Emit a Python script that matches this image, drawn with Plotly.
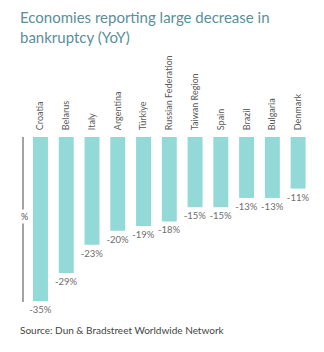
import plotly.graph_objects as go

countries = ["Croatia", "Belarus", "Italy", "Argentina", "Türkiye", "Russian Federation",
             "Taiwan Region", "Spain", "Brazil", "Bulgaria", "Denmark"]
values = [-35, -29, -23, -20, -19, -18, -15, -15, -13, -13, -11]
labels = [f"{v}%" for v in values]

TOP, BOTTOM = 137, 302
PH = BOTTOM - TOP
PW = 324 - 24 - 13


def py(p):
    return (BOTTOM - p) / PH


def px(p):
    return (p - 24) / PW


fig = go.Figure()
fig.add_trace(go.Bar(
    x=list(range(len(countries))), y=values,
    marker=dict(color="#93d9d7", line=dict(width=0)),
    width=0.58,
    text=labels, textposition="outside", cliponaxis=False, constraintext="none",
    textfont=dict(family="Lato", size=9.5, color="#6e6e6e"),
    hoverinfo="skip",
))

fig.update_layout(
    width=324, height=352,
    margin=dict(l=24, r=13, t=TOP, b=352 - BOTTOM),
    paper_bgcolor="white", plot_bgcolor="white",
    showlegend=False,
    xaxis=dict(
        side="top", range=[-0.64, 10.5],
        tickmode="array", tickvals=list(range(len(countries))), ticktext=countries,
        tickangle=-90, tickfont=dict(family="Lato", size=9, color="#5a5a5a"),
        ticks="outside", ticklen=4, tickcolor="white",
        showgrid=False, zeroline=False, showline=False, fixedrange=True,
    ),
    yaxis=dict(
        range=[-35.2, 0], showticklabels=False, showgrid=False, zeroline=False,
        showline=True, linecolor="#a3a3a3", linewidth=2, ticks="", fixedrange=True,
    ),
    annotations=[
        dict(text="Economies reporting large decrease in<br>bankruptcy (YoY)",
             x=px(18), y=py(6), xref="paper", yref="paper",
             xanchor="left", yanchor="top", align="left", showarrow=False,
             font=dict(family="Lato", size=15, color="#5a9099")),
        dict(text="%", x=-0.64, y=-17, xref="x", yref="y", showarrow=False,
             bgcolor="white", font=dict(family="Lato", size=9, color="#555555")),
        dict(text="Source: Dun & Bradstreet Worldwide Network", x=px(18), y=py(330),
             xref="paper", yref="paper", xanchor="left", yanchor="middle", showarrow=False,
             font=dict(family="Lato", size=10, color="#444444")),
    ],
)
fig.write_html("out.html")
